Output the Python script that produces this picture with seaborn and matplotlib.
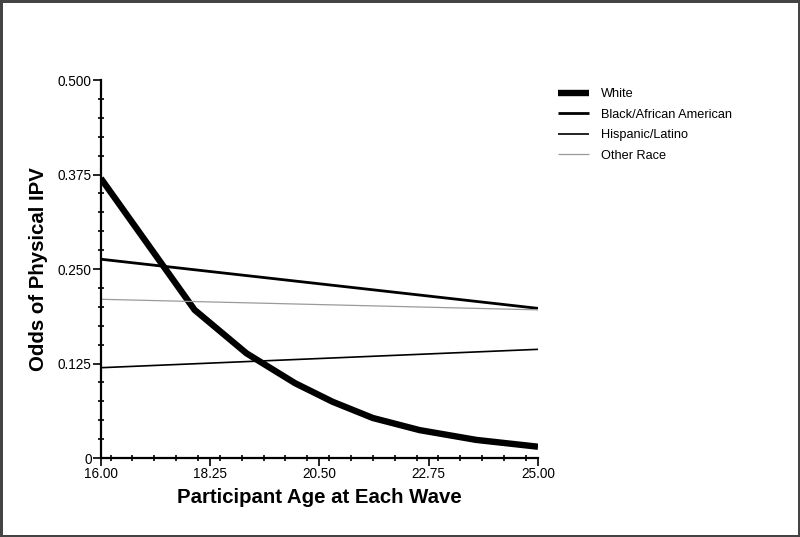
import numpy as np
import pandas as pd
import matplotlib
matplotlib.use("Agg")
import matplotlib.pyplot as plt
import seaborn as sns
from matplotlib.ticker import MultipleLocator, FixedLocator

# valores
age_white = [16.0, 17.93, 19.0, 20.0, 20.77, 21.6, 22.56, 23.73, 25.0]
odds_white = [0.370, 0.196, 0.1385, 0.099, 0.0745, 0.053, 0.037, 0.024, 0.015]

age_line = [16.0, 25.0]
odds_black = [0.263, 0.198]
odds_hispanic = [0.1195, 0.1438]
odds_other = [0.210, 0.196]

series_names = ["White", "Black/African American", "Hispanic/Latino", "Other Race"]
x_ticks = [16.0, 18.25, 20.5, 22.75, 25.0]
y_ticks = [0, 0.125, 0.25, 0.375, 0.5]
y_tick_labels = ["0", "0.125", "0.250", "0.375", "0.500"]

sns.set_style("ticks")
plt.rcParams["font.family"] = ["Liberation Sans", "DejaVu Sans"]
plt.rcParams["text.color"] = "black"
plt.rcParams["axes.labelcolor"] = "black"

fig = plt.figure(figsize=(8, 5.37), dpi=100)
fig.patch.set_edgecolor("#444444")
fig.patch.set_linewidth(2.5)
ax = fig.add_axes([0.126, 0.147, 0.5465, 0.704])

estilos = [
    (age_white, odds_white, "black", 4.6),
    (age_line, odds_black, "black", 2.0),
    (age_line, odds_hispanic, "black", 1.2),
    (age_line, odds_other, "#9a9a9a", 0.9),
]
for nome, (xs, ys, cor, lw) in zip(series_names, estilos):
    df = pd.DataFrame({"age": xs, "odds": ys})
    sns.lineplot(data=df, x="age", y="odds", color=cor, linewidth=lw,
                 label=nome, ax=ax, solid_joinstyle="miter", solid_capstyle="butt")

ax.set_xlim(16, 25)
ax.set_ylim(0, 0.5)
ax.xaxis.set_major_locator(FixedLocator(x_ticks))
ax.set_xticklabels([f"{v:.2f}" for v in x_ticks])
ax.xaxis.set_minor_locator(MultipleLocator(0.45))
ax.yaxis.set_major_locator(FixedLocator(y_ticks))
ax.set_yticklabels(y_tick_labels)
ax.yaxis.set_minor_locator(MultipleLocator(0.025))

ax.tick_params(which="major", direction="out", length=6, width=1.2,
               labelsize=9.8, pad=0.5, colors="black")
ax.tick_params(which="minor", direction="inout", length=5, width=1.2, colors="black")
for s in ["top", "right"]:
    ax.spines[s].set_visible(False)
for s in ["left", "bottom"]:
    ax.spines[s].set_linewidth(1.6)
    ax.spines[s].set_color("black")

ax.set_xlabel("Participant Age at Each Wave", fontsize=14.7, fontweight="bold", labelpad=5)
ax.set_ylabel("Odds of Physical IPV", fontsize=14.7, fontweight="bold", labelpad=7)

ax.legend(loc="upper left", bbox_to_anchor=(0.683, 0.857), bbox_transform=fig.transFigure,
          frameon=False, fontsize=9.2, handlelength=2.4, handletextpad=1.0,
          labelspacing=0.66)

fig.savefig("out.png", dpi=100)
